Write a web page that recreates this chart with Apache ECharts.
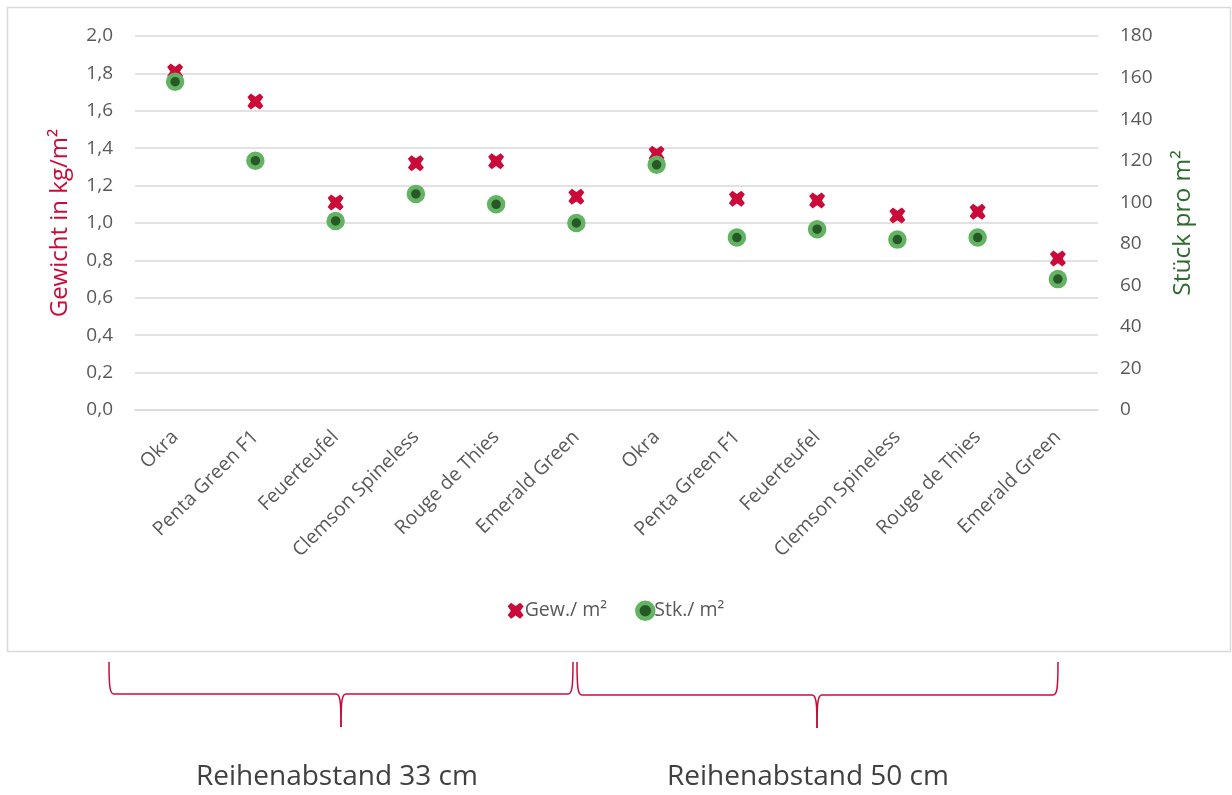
<!DOCTYPE html>
<html>
<head>
<meta charset="utf-8">
<script src="https://cdn.jsdelivr.net/npm/echarts@6/dist/echarts.min.js"></script>
<style>
html,body{margin:0;padding:0;background:#fff;}
#main{width:1232px;height:795px;}
</style>
</head>
<body>
<div id="main"></div>
<script>
var categories = ['Okra','Penta Green F1','Feuerteufel','Clemson Spineless','Rouge de Thies','Emerald Green',
                  'Okra ','Penta Green F1 ','Feuerteufel ','Clemson Spineless ','Rouge de Thies ','Emerald Green '];
var gewicht = [1.81, 1.65, 1.11, 1.32, 1.33, 1.14, 1.37, 1.13, 1.12, 1.04, 1.06, 0.81];
var stueck  = [158, 120, 91, 104, 99, 90, 118, 83, 87, 82, 83, 63];
var groupLabels = ['Reihenabstand 33 cm', 'Reihenabstand 50 cm'];

var RED = '#cc0a3a';
var GREEN_LIGHT = '#62b462';
var GREEN_DARK = '#285828';
var GREEN_TITLE = '#2f6b2f';
var TXT = '#595959';
var FONT = '"Open Sans", "Liberation Sans", sans-serif';
var crossPath = 'path://M0,2.2 L2.2,0 L5,2 L7.8,0 L10,2.2 L8,5 L10,7.8 L7.8,10 L5,8 L2.2,10 L0,7.8 L2,5 Z';

function brace(L, R, M, T, Y, B) {
  var st = {fill: 'none', stroke: RED, lineWidth: 1.5};
  return [
    {type: 'bezierCurve', shape: {x1: L, y1: T, x2: L + 5, y2: Y, cpx1: L, cpy1: Y - 6, cpx2: L + 1, cpy2: Y}, style: st},
    {type: 'line', shape: {x1: L + 5, y1: Y, x2: M - 5, y2: Y}, style: st},
    {type: 'bezierCurve', shape: {x1: M - 5, y1: Y, x2: M, y2: B, cpx1: M - 1, cpy1: Y, cpx2: M, cpy2: Y + 6}, style: st},
    {type: 'bezierCurve', shape: {x1: M, y1: B, x2: M + 5, y2: Y, cpx1: M, cpy1: Y + 6, cpx2: M + 1, cpy2: Y}, style: st},
    {type: 'line', shape: {x1: M + 5, y1: Y, x2: R - 5, y2: Y}, style: st},
    {type: 'bezierCurve', shape: {x1: R - 5, y1: Y, x2: R, y2: T, cpx1: R - 1, cpy1: Y, cpx2: R, cpy2: Y - 6}, style: st}
  ];
}

var graphics = [
  {type: 'rect', shape: {x: 7.5, y: 7.5, width: 1223, height: 644}, z: -1,
   style: {fill: 'none', stroke: '#d9d9d9', lineWidth: 1.5}},
  {type: 'text', x: 337, y: 777, style: {text: groupLabels[0], fill: '#404040', fontSize: 28, fontFamily: FONT, align: 'center', verticalAlign: 'middle'}},
  {type: 'text', x: 808, y: 777, style: {text: groupLabels[1], fill: '#404040', fontSize: 28, fontFamily: FONT, align: 'center', verticalAlign: 'middle'}}
].concat(brace(109, 573, 341, 662, 694, 727)).concat(brace(577, 1058, 817, 662, 695, 728));

var chart = echarts.init(document.getElementById('main'));
chart.setOption({
  animation: false,
  backgroundColor: '#fff',
  textStyle: {fontFamily: FONT},
  grid: {left: 135, right: 134, top: 36, bottom: 385, containLabel: false},
  legend: {
    bottom: 169, left: 'center',
    itemGap: 28, itemWidth: 16, itemHeight: 16,
    textStyle: {color: TXT, fontSize: 19.5, fontFamily: FONT, padding: [0, 0, 0, -4]},
    data: [
      {name: 'Gew./ m²', icon: crossPath},
      {name: 'Stk./ m²', icon: 'circle', itemStyle: {color: GREEN_DARK, borderColor: GREEN_LIGHT, borderWidth: 4.5}}
    ]
  },
  xAxis: {
    type: 'category',
    data: categories,
    axisLine: {lineStyle: {color: '#d9d9d9', width: 1.5}},
    axisTick: {show: false},
    axisLabel: {rotate: 45, color: TXT, fontSize: 19.5, fontFamily: FONT, margin: 24, interval: 0,
      formatter: function(v){ return v.trim(); }}
  },
  yAxis: [
    {
      type: 'value', min: 0, max: 2, interval: 0.2,
      name: 'Gewicht in kg/m²', nameLocation: 'middle', nameGap: 63,
      nameTextStyle: {color: RED, fontSize: 24, fontFamily: FONT},
      axisLine: {show: false}, axisTick: {show: false},
      splitLine: {lineStyle: {color: '#d9d9d9', width: 1.5}},
      axisLabel: {color: TXT, fontSize: 19, margin: 22, fontFamily: FONT,
        formatter: function(v){ return v.toFixed(1).replace('.', ','); }}
    },
    {
      type: 'value', min: 0, max: 180, interval: 20,
      name: 'Stück pro m²', nameLocation: 'middle', nameGap: 73, nameRotate: 90,
      nameTextStyle: {color: GREEN_TITLE, fontSize: 24.5, fontFamily: FONT},
      axisLine: {show: false}, axisTick: {show: false},
      splitLine: {show: false},
      axisLabel: {color: TXT, fontSize: 19, margin: 22, fontFamily: FONT}
    }
  ],
  series: [
    {
      name: 'Gew./ m²', type: 'scatter', yAxisIndex: 0,
      data: gewicht, symbol: crossPath, symbolSize: 16,
      itemStyle: {color: RED, opacity: 1}
    },
    {
      name: 'Stk./ m²', type: 'scatter', yAxisIndex: 1,
      data: stueck, symbol: 'circle', symbolSize: 14,
      itemStyle: {color: GREEN_DARK, borderColor: GREEN_LIGHT, borderWidth: 4.5, opacity: 1}
    }
  ],
  graphic: graphics
});
</script>
</body>
</html>
